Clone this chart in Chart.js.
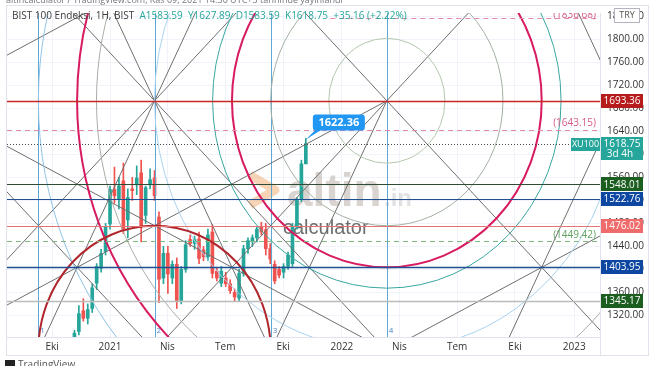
<!DOCTYPE html>
<html lang="tr">
<head>
<meta charset="utf-8">
<title>BIST 100 Endeksi - Gann</title>
<script src="https://cdn.jsdelivr.net/npm/chart.js@4.4.0/dist/chart.umd.min.js"></script>
<style>
  html, body { margin: 0; padding: 0; background: #fff; }
  canvas { display: block; }
</style>
</head>
<body>
<canvas id="gann" width="654" height="366"></canvas>
<script>
  // weekly candles, week 0 = first week of 2021
  const weeks  = [-8, -7, -6, -5, -4, -3, -2, -1, 0, 1, 2, 3, 4, 5, 6, 7, 8, 9, 10, 11, 12, 13, 14, 15, 16, 17, 18, 19, 20, 21, 22, 23, 24, 25, 26, 27, 28, 29, 30, 31, 32, 33, 34, 35, 36, 37, 38, 39, 40, 41, 42, 43, 44];
  const opens  = [1262, 1292, 1328, 1315, 1332, 1376, 1402, 1431, 1479, 1539, 1522, 1554, 1486, 1540, 1547, 1568, 1494, 1547, 1559, 1491, 1385, 1428, 1385, 1409, 1346, 1400, 1452, 1445, 1453, 1434, 1422, 1465, 1397, 1376, 1385, 1375, 1360, 1350, 1393, 1436, 1448, 1455, 1475, 1469, 1436, 1409, 1400, 1395, 1405, 1410, 1474, 1522, 1583.59];
  const highs  = [1294, 1337, 1349, 1340, 1375, 1410, 1435, 1480, 1545, 1578, 1560, 1585, 1540, 1560, 1580, 1590, 1545, 1575, 1572, 1500, 1440, 1440, 1415, 1420, 1405, 1450, 1460, 1458, 1465, 1440, 1470, 1478, 1402, 1405, 1395, 1382, 1366, 1400, 1442, 1455, 1460, 1475, 1482, 1480, 1445, 1415, 1405, 1410, 1430, 1480, 1525, 1590, 1627.89];
  const lows   = [1255, 1286, 1310, 1305, 1325, 1365, 1395, 1425, 1470, 1515, 1505, 1462, 1455, 1520, 1530, 1448, 1480, 1540, 1520, 1342, 1375, 1358, 1375, 1332, 1340, 1395, 1440, 1435, 1410, 1415, 1415, 1385, 1380, 1370, 1370, 1358, 1345, 1345, 1388, 1428, 1440, 1448, 1460, 1425, 1410, 1375, 1385, 1385, 1400, 1405, 1470, 1518, 1583.59];
  const closes = [1289, 1323, 1315, 1330, 1368, 1405, 1428, 1474, 1539, 1528, 1545, 1469, 1525, 1537, 1559, 1474, 1542, 1556, 1528, 1383, 1428, 1392, 1409, 1346, 1400, 1443, 1445, 1452, 1419, 1422, 1460, 1393, 1385, 1397, 1375, 1363, 1352, 1393, 1436, 1450, 1455, 1470, 1465, 1436, 1418, 1380, 1390, 1405, 1425, 1474, 1522, 1583.59, 1618.75];

  const timeTicks  = [-13, 0, 12.9, 25.9, 38.9, 52.1, 65, 78, 91, 104.3];
  const timeLabels = ['Eki', '2021', 'Nis', 'Tem', 'Eki', '2022', 'Nis', 'Tem', 'Eki', '2023'];
  const priceTicks = [1320, 1360, 1400, 1440, 1480, 1520, 1560, 1600, 1640, 1680, 1720, 1760, 1800, 1840];

  // horizontal levels drawn on the chart
  const levelPrices  = [1693.36, 1548.01, 1522.76, 1476.02, 1403.95, 1345.17];
  const targetPrices = [1836.68, 1643.15, 1449.42];
  const lastPrice = 1618.75;
  const lastCountdown = '3d 4h';
  const notePrice = 1622.36;
  const noteWeek = 44;
  const ohlc = { open: 1583.59, high: 1627.89, low: 1583.59, close: 1618.75, change: 35.16, pct: 2.22 };

  // gann grid: one unit = 26.1 weeks by 217.34 points
  const gannUnitWeeks = 26.1;
  const gannUnitPrice = 217.34;
  const cycleWeeks  = [-16.1, 10.0, 36.1, 62.2];
  const cycleLabels = ['1', '2', '3', '4'];

  const arcCenterWeeks  = [62.2, 62.2, 62.2, 62.2, 62.2, 62.2, 62.2, 62.2, 10.0];
  const arcCenterPrices = [1693.36, 1693.36, 1693.36, 1693.36, 1693.36, 1693.36, 1693.36, 1693.36, 1258.68];
  const arcRadii        = [0.5, 1, 4 / 3, 1.5, 2, 2.5, 8 / 3, 3, 1];

  const fanWeeks  = [-42.2, -42.2, 10, 10, 10, 10, 62.2, 62.2, 62.2, 62.2, 10, 114.4, 114.4, 114.4];
  const fanPrices = [1693.36, 1693.36, 1693.36, 1693.36, 1693.36, 1693.36, 1693.36, 1693.36, 1693.36, 1693.36, 1258.68, 1476.02, 1693.36, 1693.36];
  const fanSlopes = [0.5, -0.5, 1, -1, 2, -2, 1, -1, 0.5, 2, -1, 0.5, 2, -2];
  const fanSides  = ['both', 'both', 'both', 'both', 'both', 'both', 'both', 'both', 'left', 'left', 'left', 'left', 'left', 'left'];

  // styles
  const upColor = '#26a69a';
  const downColor = '#ef5350';
  const levelLine = ['#c62828', '#2f4a35', '#1f4f8f', '#e57373', '#1f4f91', '#b8bdb8'];
  const levelBox  = ['#b71c1c', '#1b5e20', '#0d47a1', '#f06b6b', '#0d47a1', '#1b5e20'];
  const levelWidth = [1.5, 1.2, 1.2, 1.2, 1.5, 1.5];
  const targetColors = ['#e38aa8', '#e38aa8', '#7dbb7d'];
  const arcColors = ['#b3c7ad', '#a3b0a3', '#d81b60', '#3aa6a0', '#a9d2ee', '#a9aea9', '#d81b60', '#8fc3e6', '#b0262c'];
  const arcWidths = [1, 1, 2, 1, 1, 1, 2, 1, 2];
  const font = '"Open Sans", "Liberation Sans", sans-serif';

  const candleColors = closes.map((c, i) => c >= opens[i] ? upColor : downColor);

  const gannPlugin = {
    id: 'gann',
    beforeDatasetsDraw(chart) {
      const ctx = chart.ctx, a = chart.chartArea;
      ctx.save();
      ctx.beginPath();
      ctx.rect(a.left, a.top, a.right - a.left, a.bottom - a.top);
      ctx.clip();
      // altin.in watermark
      const ox = a.left, oy = a.top;
      ctx.strokeStyle = 'rgba(236,160,90,0.45)';
      ctx.lineWidth = 9;
      ctx.lineJoin = 'round';
      ctx.beginPath();
      ctx.moveTo(ox + 243, oy + 162);
      ctx.lineTo(ox + 268, oy + 177);
      ctx.lineTo(ox + 243, oy + 192);
      ctx.stroke();
      ctx.fillStyle = 'rgba(170,160,150,0.45)';
      ctx.font = 'bold 46px "Liberation Sans", Arial, sans-serif';
      ctx.textBaseline = 'alphabetic';
      ctx.fillText('altin', ox + 280, oy + 193);
      ctx.fillStyle = 'rgba(190,190,190,0.45)';
      ctx.font = 'bold 24px "Liberation Sans", Arial, sans-serif';
      ctx.fillText('.in', ox + 377, oy + 193);
      ctx.fillStyle = 'rgba(85,85,85,0.85)';
      ctx.font = '20px "Liberation Sans", Arial, sans-serif';
      ctx.fillText('calculator', ox + 276, oy + 221);
      ctx.restore();
    },
    afterDatasetsDraw(chart) {
      const ctx = chart.ctx, a = chart.chartArea;
      const xs = chart.scales.x, ys = chart.scales.y;
      const X = v => xs.getPixelForValue(v), Y = v => ys.getPixelForValue(v);
      ctx.save();
      ctx.beginPath();
      ctx.rect(a.left, a.top, a.right - a.left, a.bottom - a.top);
      ctx.clip();

      // cycle verticals
      ctx.strokeStyle = '#5fa8d3';
      ctx.lineWidth = 1;
      cycleWeeks.forEach(w => {
        ctx.beginPath();
        ctx.moveTo(Math.round(X(w)) + 0.5, a.top);
        ctx.lineTo(Math.round(X(w)) + 0.5, a.bottom);
        ctx.stroke();
      });

      // fan lines
      const k = gannUnitPrice / gannUnitWeeks;
      ctx.strokeStyle = '#6f6f6f';
      ctx.lineWidth = 1;
      fanWeeks.forEach((w0, i) => {
        const p0 = fanPrices[i], s = fanSlopes[i] * k;
        const wa = fanSides[i] === 'right' ? w0 : xs.min - 20;
        const wb = fanSides[i] === 'left' ? w0 : xs.max + 20;
        ctx.beginPath();
        ctx.moveTo(X(wa), Y(p0 + s * (wa - w0)));
        ctx.lineTo(X(wb), Y(p0 + s * (wb - w0)));
        ctx.stroke();
      });

      // arcs
      arcRadii.forEach((r, i) => {
        const cx = X(arcCenterWeeks[i]), cy = Y(arcCenterPrices[i]);
        const rx = X(arcCenterWeeks[i] + r * gannUnitWeeks) - cx;
        const ry = cy - Y(arcCenterPrices[i] + r * gannUnitPrice);
        ctx.strokeStyle = arcColors[i];
        ctx.lineWidth = arcWidths[i];
        ctx.beginPath();
        ctx.ellipse(cx, cy, rx, ry, 0, 0, 2 * Math.PI);
        ctx.stroke();
      });

      // horizontal levels
      levelPrices.forEach((p, i) => {
        const y = Math.round(Y(p)) + 0.5;
        ctx.strokeStyle = levelLine[i];
        ctx.lineWidth = levelWidth[i];
        ctx.beginPath();
        ctx.moveTo(a.left, y);
        ctx.lineTo(a.right, y);
        ctx.stroke();
      });

      // target levels (dashed) with labels
      ctx.setLineDash([5, 4]);
      targetPrices.forEach((p, i) => {
        const y = Math.round(Y(p)) + 0.5;
        ctx.strokeStyle = targetColors[i];
        ctx.lineWidth = 1;
        ctx.beginPath();
        ctx.moveTo(i === 0 ? X(49.5) : a.left, y);
        ctx.lineTo(a.right, y);
        ctx.stroke();
      });
      ctx.setLineDash([]);
      ctx.font = '10px ' + font;
      ctx.textAlign = 'right';
      ctx.textBaseline = 'bottom';
      targetPrices.forEach((p, i) => {
        ctx.fillStyle = i === 2 ? '#5ea35e' : '#d65a85';
        ctx.fillText('(' + p.toFixed(2) + ')', a.right - 4, Y(p) + (i === 0 ? 2 : -1));
      });

      // last price dotted line
      ctx.setLineDash([1, 2]);
      ctx.strokeStyle = '#4a4a4a';
      ctx.lineWidth = 1;
      ctx.beginPath();
      ctx.moveTo(a.left, Math.round(Y(lastPrice)) + 0.5);
      ctx.lineTo(a.right, Math.round(Y(lastPrice)) + 0.5);
      ctx.stroke();
      ctx.setLineDash([]);

      // cycle numbers
      ctx.font = '8px ' + font;
      ctx.textAlign = 'left';
      ctx.textBaseline = 'bottom';
      ctx.fillStyle = '#4f86c6';
      cycleWeeks.forEach((w, i) => ctx.fillText(cycleLabels[i], X(w) + 2, a.bottom - 2));

      // price note
      const nx = X(noteWeek), ny = Y(notePrice);
      ctx.fillStyle = '#2196f3';
      ctx.beginPath();
      ctx.moveTo(nx, ny - 2);
      ctx.lineTo(nx + 10, ny - 12);
      ctx.lineTo(nx + 16, ny - 12);
      ctx.closePath();
      ctx.fill();
      ctx.beginPath();
      ctx.roundRect(nx + 7, ny - 27, 52, 16, 3);
      ctx.fill();
      ctx.fillStyle = '#fff';
      ctx.font = 'bold 11px ' + font;
      ctx.textAlign = 'center';
      ctx.textBaseline = 'middle';
      ctx.fillText(notePrice.toFixed(2), nx + 33, ny - 19);
      ctx.restore();
    },
    afterDraw(chart) {
      const ctx = chart.ctx, a = chart.chartArea;
      const ys = chart.scales.y;
      const Y = v => ys.getPixelForValue(v);
      ctx.save();

      // frame
      ctx.strokeStyle = '#e0e3eb';
      ctx.lineWidth = 1;
      ctx.strokeRect(6.5, 5.5, 642, 350);
      ctx.beginPath();
      ctx.moveTo(a.right + 0.5, a.top);
      ctx.lineTo(a.right + 0.5, 355.5);
      ctx.stroke();

      // level boxes on the price axis
      ctx.font = '10px ' + font;
      ctx.textAlign = 'center';
      ctx.textBaseline = 'middle';
      levelPrices.forEach((p, i) => {
        const y = Y(p);
        ctx.fillStyle = levelBox[i];
        ctx.fillRect(a.right + 1, Math.round(y) - 7, 42, 14);
        ctx.fillStyle = '#fff';
        ctx.fillText(p.toFixed(2), a.right + 22, y + 0.5);
      });

      // last price boxes
      const ly = Y(lastPrice);
      ctx.fillStyle = upColor;
      ctx.fillRect(a.right + 1, Math.round(ly) - 7, 42, 23);
      ctx.fillRect(a.right - 29, Math.round(ly) - 6, 29, 13);
      ctx.fillStyle = '#fff';
      ctx.fillText(lastPrice.toFixed(2), a.right + 22, ly + 0.5);
      ctx.fillText(lastCountdown, a.right + 20, ly + 11);
      ctx.font = '9px ' + font;
      ctx.fillText('XU100', a.right - 14.5, ly + 0.5);

      // currency box
      ctx.fillStyle = '#fff';
      ctx.fillRect(614, 8, 25, 14);
      ctx.strokeStyle = '#b2b5be';
      ctx.strokeRect(614.5, 8.5, 25, 14);
      ctx.fillStyle = '#555';
      ctx.font = '9px ' + font;
      ctx.fillText('TRY', 627, 15.5);

      // legend line
      ctx.textAlign = 'left';
      ctx.font = '10px ' + font;
      const head = 'BIST 100 Endeksi, 1H, BIST  ';
      ctx.fillStyle = '#3c3c3c';
      ctx.fillText(head, 12, 16);
      const vals = 'A' + ohlc.open.toFixed(2) + '  Y' + ohlc.high.toFixed(2) + '  D' + ohlc.low.toFixed(2) +
        '  K' + ohlc.close.toFixed(2) + '  +' + ohlc.change.toFixed(2) + ' (+' + ohlc.pct.toFixed(2) + '%)';
      ctx.fillStyle = upColor;
      ctx.fillText(vals, 12 + ctx.measureText(head).width, 16);

      // cropped header and footer
      ctx.fillStyle = '#777';
      ctx.font = '9px ' + font;
      ctx.fillText('altincalculator / TradingView.com, Kas 09, 2021 14:30 UTC+3 tarihinde yayınlandı', 6, 0);
      ctx.fillStyle = '#222';
      ctx.fillRect(5, 360, 10, 7);
      ctx.fillStyle = '#555';
      ctx.font = '10px ' + font;
      ctx.fillText('TradingView', 18, 365);
      ctx.restore();
    }
  };

  new Chart(document.getElementById('gann'), {
    type: 'bar',
    data: {
      datasets: [
        {
          label: 'wick',
          data: weeks.map((w, i) => ({ x: w, y: [lows[i], highs[i]] })),
          backgroundColor: candleColors,
          barThickness: 1,
          grouped: false,
          order: 2
        },
        {
          label: 'body',
          data: weeks.map((w, i) => ({ x: w, y: [opens[i], closes[i]] })),
          backgroundColor: candleColors,
          barThickness: 3,
          minBarLength: 1,
          grouped: false,
          order: 1
        }
      ]
    },
    options: {
      responsive: false,
      animation: false,
      events: [],
      layout: { padding: { left: 7, top: 7, right: 0, bottom: 11 } },
      plugins: { legend: { display: false }, tooltip: { enabled: false } },
      scales: {
        x: {
          type: 'linear',
          min: -23.15,
          max: 110.1,
          offset: false,
          grid: { color: '#f0f3fa', drawTicks: false, offset: false },
          border: { color: '#e0e3eb' },
          afterBuildTicks: s => { s.ticks = timeTicks.map(v => ({ value: v })); },
          afterFit: s => { s.height = 18; },
          ticks: {
            autoSkip: false,
            maxRotation: 0,
            padding: 4,
            color: '#333',
            font: { family: font, size: 10 },
            callback: (v, i) => timeLabels[i]
          }
        },
        y: {
          position: 'right',
          min: 1282.4,
          max: 1846,
          grid: { color: '#f0f3fa', drawTicks: false },
          border: { color: '#e0e3eb' },
          afterBuildTicks: s => { s.ticks = priceTicks.map(v => ({ value: v })); },
          afterFit: s => { s.width = 54; },
          ticks: {
            padding: 7,
            color: '#333',
            font: { family: font, size: 10 },
            callback: v => v.toFixed(2)
          }
        }
      }
    },
    plugins: [gannPlugin]
  });
</script>
</body>
</html>
